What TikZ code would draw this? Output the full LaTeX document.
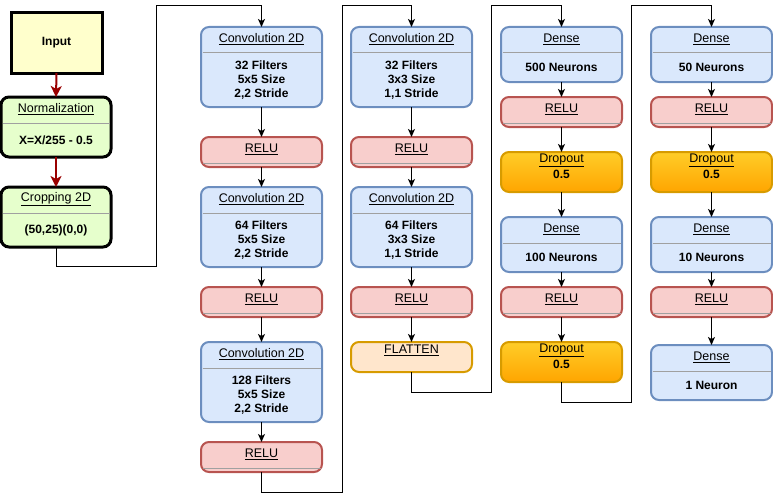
\documentclass[tikz,border=0pt]{standalone}
\usepackage{fontspec}
\setmainfont{Liberation Sans}
\usetikzlibrary{arrows.meta}
\definecolor{bfill}{HTML}{DAE8FC}
\definecolor{bstroke}{HTML}{6C8EBF}
\definecolor{rfill}{HTML}{F8CECC}
\definecolor{rstroke}{HTML}{B85450}
\definecolor{ofill}{HTML}{FFE6CC}
\definecolor{ostroke}{HTML}{D79B00}
\definecolor{gtop}{HTML}{FFCD28}
\definecolor{gbot}{HTML}{FFA500}
\definecolor{grfill}{HTML}{E6FFCC}
\definecolor{yfill}{HTML}{FFFFCC}
\definecolor{darkred}{HTML}{990000}
\definecolor{divgray}{HTML}{A0A0A0}
\newcommand{\lyr}[7]{%
  \node[#2, minimum height=#5 pt, anchor=north] (#1) at (#3,#4) {};
  \draw[divider] ([shift={(1.5,26)}]#1.north west) -- ([shift={(-1.5,26)}]#1.north east);
  \node[ttl] (#1t) at (#3,#4+12) {\underline{#6}};
  \node[body] (#1b) at (#3,#4+13+#5/2) {#7};
}
\newcommand{\rl}[4]{%
  \node[redbox, minimum height=30pt, anchor=north] (#1) at (#2,#3) {};
  \draw[divider] ([shift={(1.5,26)}]#1.north west) -- ([shift={(-1.5,26)}]#1.north east);
  \node[ttl] (#1t) at (#2,#3+12) {\underline{#4}};
}
\newcommand{\dro}[3]{%
  \node[dropbox, minimum height=40pt, anchor=north] (#1) at (#2,#3) {};
  \node[ttl] (#1t) at (#2,#3+8) {\underline{Dropout}};
  \node[body] (#1b) at (#2,#3+22) {0.5};
}
\begin{document}
\begin{tikzpicture}[x=1pt,y=-1pt,
  font=\fontsize{12}{14}\selectfont,
  box/.style={draw, line width=2pt, rounded corners=8pt, minimum width=121pt, inner sep=0pt, outer sep=0pt},
  bluebox/.style={box, draw=bstroke, fill=bfill},
  redbox/.style={box, draw=rstroke, fill=rfill},
  flatbox/.style={box, draw=ostroke, fill=ofill},
  dropbox/.style={box, draw=ostroke, top color=gtop, bottom color=gbot},
  greenbox/.style={box, line width=3pt, draw=black, fill=grfill, minimum width=110pt},
  inbox/.style={draw=black, line width=3pt, fill=yfill, minimum width=91pt, minimum height=60pt, inner sep=0pt, outer sep=0pt},
  divider/.style={draw=divgray, line width=1pt},
  ttl/.style={inner sep=0pt, text=black, font=\fontsize{12.5}{14}\selectfont},
  body/.style={inner sep=0pt, align=center, font=\fontsize{12}{14}\selectfont\bfseries},
  conn/.style={draw=black, line width=1pt, -{Stealth[length=8pt,width=7pt,inset=2pt]}},
  redarr/.style={draw=darkred, line width=2pt, -{Stealth[length=11pt,width=11pt,inset=3pt]}}
]
\useasboundingbox (0,0) rectangle (773,503);
% column 0
\node[inbox] (in) at (56.5,43) {\bfseries Input};
\lyr{nm}{greenbox}{56}{97}{60}{Normalization}{X=X/255 - 0.5}
\lyr{cr}{greenbox}{56}{187}{60}{Cropping 2D}{(50,25)(0,0)}
\draw[redarr] (in.south) -- (nm.north);
\draw[redarr] (nm.south) -- (cr.north);
% column 1
\lyr{c1}{bluebox}{261.5}{27}{80}{Convolution 2D}{32 Filters\\5x5 Size\\2,2 Stride}
\rl{r1}{261.5}{137}{RELU}
\lyr{c2}{bluebox}{261.5}{187}{80}{Convolution 2D}{64 Filters\\5x5 Size\\2,2 Stride}
\rl{r2}{261.5}{287}{RELU}
\lyr{c3}{bluebox}{261.5}{342}{80}{Convolution 2D}{128 Filters\\5x5 Size\\2,2 Stride}
\rl{r3}{261.5}{442}{RELU}
% column 2
\lyr{c4}{bluebox}{411.5}{27}{80}{Convolution 2D}{32 Filters\\3x3 Size\\1,1 Stride}
\rl{r4}{411.5}{137}{RELU}
\lyr{c5}{bluebox}{411.5}{187}{80}{Convolution 2D}{64 Filters\\3x3 Size\\1,1 Stride}
\rl{r5}{411.5}{287}{RELU}
\node[flatbox, minimum height=30pt, anchor=north] (fl) at (411.5,342) {};
\node[ttl] (flt) at (411.5,350) {\underline{FLATTEN}};
% column 3
\lyr{d1}{bluebox}{561.5}{27}{55}{Dense}{500 Neurons}
\rl{r6}{561.5}{97}{RELU}
\dro{o1}{561.5}{152}
\lyr{d2}{bluebox}{561.5}{217}{55}{Dense}{100 Neurons}
\rl{r7}{561.5}{287}{RELU}
\dro{o2}{561.5}{342}
% column 4
\lyr{d4}{bluebox}{711.5}{27}{55}{Dense}{50 Neurons}
\rl{r8}{711.5}{97}{RELU}
\dro{o3}{711.5}{152}
\lyr{d5}{bluebox}{711.5}{217}{55}{Dense}{10 Neurons}
\rl{r9}{711.5}{287}{RELU}
\lyr{d6}{bluebox}{711.5}{345}{55}{Dense}{1 Neuron}
% in-column arrows
\foreach \a/\b in {c1/r1,r1/c2,c2/r2,r2/c3,c3/r3,c4/r4,r4/c5,c5/r5,r5/fl,d1/r6,r6/o1,o1/d2,d2/r7,r7/o2,d4/r8,r8/o3,o3/d5,d5/r9,r9/d6}
  \draw[conn] (\a.south) -- (\b.north);
% loop connectors
\coordinate (j1a) at (156,266);
\coordinate (j1b) at (156,6);
\coordinate (j2a) at (342,492);
\coordinate (j2b) at (342,6);
\coordinate (j3a) at (491,392);
\coordinate (j3b) at (491,6);
\coordinate (j4a) at (631,402);
\coordinate (j4b) at (631,6);
\draw[conn] (cr.south) |- (j1a) -- (j1b) -| (c1.north);
\draw[conn] (r3.south) |- (j2a) -- (j2b) -| (c4.north);
\draw[conn] (fl.south) |- (j3a) -- (j3b) -| (d1.north);
\draw[conn] (o2.south) |- (j4a) -- (j4b) -| (d4.north);
\end{tikzpicture}
\end{document}
